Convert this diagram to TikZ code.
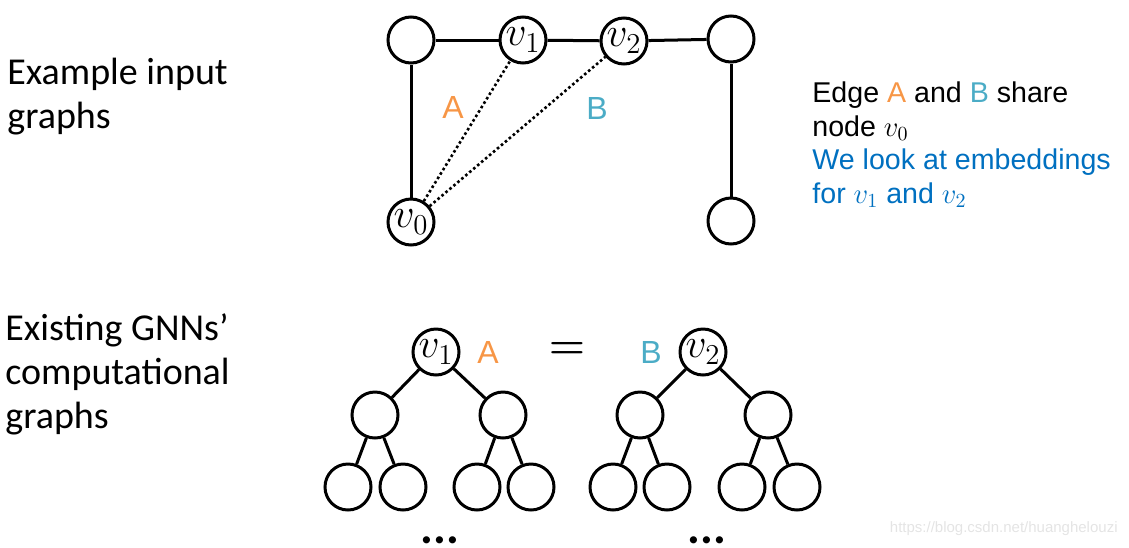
\documentclass[tikz,border=0pt]{standalone}
\usepackage[no-math]{fontspec}
\setmainfont{Carlito}
\newfontfamily\arialfont{Liberation Sans}
\definecolor{edgeA}{HTML}{F79646}
\definecolor{edgeB}{HTML}{4BACC6}
\definecolor{look}{HTML}{0070C0}
\definecolor{wmark}{HTML}{E4E4E4}
\tikzset{
	vertex/.style={circle,draw,line width=1.5pt,minimum size=23pt,inner sep=0pt,font=\fontsize{20}{20}\selectfont},
	link/.style={line width=1.5pt},
	shared/.style={line width=1.3pt,dash pattern=on 1.3pt off 1.3pt},
	caption/.style={align=left,inner sep=0pt,anchor=base west,font=\fontsize{19}{22}\selectfont},
	note/.style={align=left,inner sep=0pt,anchor=base west,font=\arialfont\fontsize{14.3}{16.75}\selectfont},
	tag/.style={inner sep=0pt,font=\arialfont\fontsize{16}{16}\selectfont},
}
\begin{document}
\begin{tikzpicture}[x=0.5pt,y=-0.5pt]
		\useasboundingbox (0,0) rectangle (1129,547);
		\clip (0,0) rectangle (1129,547);

		% input graph
		\node [vertex] (tl) at (411,40) {};
		\node [vertex] (v1) at (523,40) {$v_1$};
		\node [vertex] (v2) at (624,41) {$v_2$};
		\node [vertex] (tr) at (731,39) {};
		\node [vertex] (v0) at (411,222) {$v_0$};
		\node [vertex] (br) at (731,221) {};

		\draw [link] (tl) -- (v1);
		\draw [link] (v1) -- (v2);
		\draw [link] (v2) -- (tr);
		\draw [link] (tl) -- (v0);
		\draw [link] (tr) -- (br);
		\draw [shared] (v0) -- (v1);
		\draw [shared] (v0) -- (v2);

		\node [tag,text=edgeA] (labA) at (453,107) {A};
		\node [tag,text=edgeB] (labB) at (597,108) {B};

		% computational graphs
		\node [vertex] (ra) at (436,352) {$v_1$};
		\node [vertex] (a1) at (375,415) {};
		\node [vertex] (a2) at (503,415) {};
		\node [vertex] (a11) at (348,487) {};
		\node [vertex] (a12) at (403,487) {};
		\node [vertex] (a21) at (477,487) {};
		\node [vertex] (a22) at (531,487) {};

		\node [vertex] (rb) at (703,352) {$v_2$};
		\node [vertex] (b1) at (640,415) {};
		\node [vertex] (b2) at (768,415) {};
		\node [vertex] (b11) at (613,487) {};
		\node [vertex] (b12) at (667,487) {};
		\node [vertex] (b21) at (742,487) {};
		\node [vertex] (b22) at (797,487) {};

		\foreach \r/\c in {ra/a1,ra/a2,a1/a11,a1/a12,a2/a21,a2/a22,rb/b1,rb/b2,b1/b11,b1/b12,b2/b21,b2/b22}
			\draw [link] (\r) -- (\c);

		\node [tag,text=edgeA] (treeA) at (488,352) {A};
		\node [tag,text=edgeB] (treeB) at (651,352) {B};
		\node [inner sep=0pt,font=\fontsize{20}{20}\selectfont\boldmath] (same) at (567,350) {$=$};

		\node [inner sep=0pt,anchor=north,font=\bfseries\fontsize{24}{24}\selectfont] (moreA) at (440,536) {...};
		\node [inner sep=0pt,anchor=north,font=\bfseries\fontsize{24}{24}\selectfont] (moreB) at (707,536) {...};

		% texts
		\node [caption] (input) at (7,128) {Example input\\graphs};
		\node [caption] (gnn) at (5,428) {Existing GNNs’\\computational\\graphs};
		\node [note] (share) at (812,203) {Edge \textcolor{edgeA}{A} and \textcolor{edgeB}{B} share\\node $v_0$\\\textcolor{look}{We look at embeddings}\\\textcolor{look}{for $v_1$ and $v_2$}};

		\node [inner sep=0pt,anchor=base east,text=wmark,font=\arialfont\fontsize{7.5}{7.5}\selectfont] (site) at (1118,532) {https://blog.csdn.net/huanghelouzi};

		\end{tikzpicture}
\end{document}
